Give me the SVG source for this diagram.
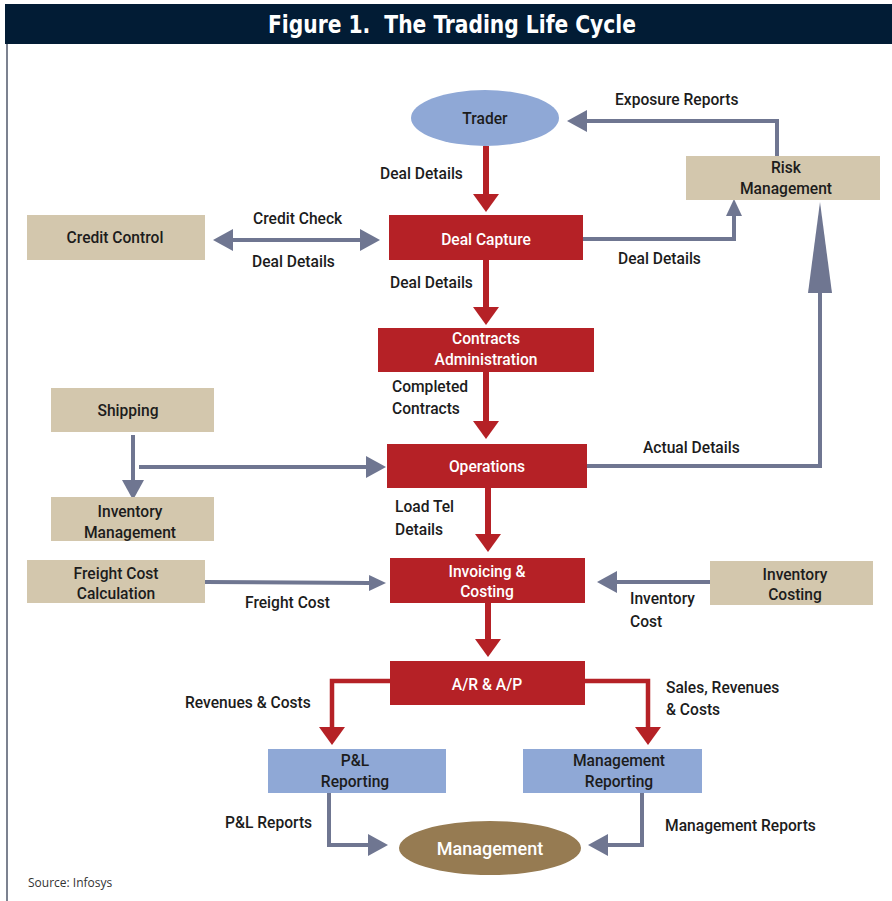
<svg xmlns="http://www.w3.org/2000/svg" width="892" height="901" viewBox="0 0 892 901">
<defs>
<style>
.t{font-family:Roboto,"Liberation Sans",Arial,sans-serif;font-weight:500;font-size:15.6px;fill:#1c1c1c}
.c{text-anchor:middle}
.w{fill:#ffffff}
.red{fill:#b52126}
.tan{fill:#d3c7ad}
.blu{fill:#8fa8d6}
.rl{fill:none;stroke:#b52126;stroke-width:6}
.rl4{fill:none;stroke:#b52126;stroke-width:4.5}
.gl{fill:none;stroke:#6f7691;stroke-width:4}
</style>
<marker id="ra" markerUnits="userSpaceOnUse" markerWidth="20" markerHeight="28" viewBox="0 -14 20 28" refX="0" refY="0" orient="auto">
<path d="M0,-13 L18,0 L0,13 z" fill="#b52126"/>
</marker>
<marker id="ga" markerUnits="userSpaceOnUse" markerWidth="22" markerHeight="24" viewBox="0 -12 22 24" refX="0" refY="0" orient="auto-start-reverse">
<path d="M0,-11 L20,0 L0,11 z" fill="#6f7691"/>
</marker>
<marker id="gs" markerUnits="userSpaceOnUse" markerWidth="22" markerHeight="24" viewBox="0 -12 22 24" refX="0" refY="0" orient="auto">
<path d="M0,-8 L17,0 L0,8 z" fill="#6f7691"/>
</marker>
</defs>
<rect width="892" height="901" fill="#ffffff"/>
<g id="title">
<rect x="5" y="4" width="887" height="40" fill="#021c35"/>
<text x="452" y="33" text-anchor="middle" font-family="'DejaVu Sans Condensed','Liberation Sans Narrow','Liberation Sans',sans-serif" font-weight="bold" font-size="25" fill="#ffffff" textLength="368" lengthAdjust="spacingAndGlyphs">Figure 1.&#160; The Trading Life Cycle</text>
</g>
<line x1="7" y1="44" x2="7" y2="901" stroke="#7c8290" stroke-width="2"/>

<g id="connectors">
<path class="rl" d="M486,146 V194" marker-end="url(#ra)"/>
<path class="rl" d="M486,260 V307" marker-end="url(#ra)"/>
<path class="rl" d="M486,372 V421" marker-end="url(#ra)"/>
<path class="rl" d="M488,488 V534" marker-end="url(#ra)"/>
<path class="rl" d="M488,603 V639" marker-end="url(#ra)"/>
<path class="rl4" d="M390,681 H332 V727" marker-end="url(#ra)"/>
<path class="rl4" d="M585,681 H648 V727" marker-end="url(#ra)"/>

<path class="gl" d="M777,156 V121 H587" marker-end="url(#ga)"/>
<path class="gl" d="M583,239 H734 V216" marker-end="url(#gs)"/>
<path class="gl" d="M233,240 H360" marker-start="url(#ga)" marker-end="url(#ga)"/>
<path class="gl" d="M587,466 H820 V292"/>
<polygon points="820,202 808,293 832,293" fill="#6f7691"/>
<path class="gl" d="M133,435 V480" marker-end="url(#ga)"/>
<path class="gl" d="M139,467 H366" marker-end="url(#ga)"/>
<path class="gl" d="M205,582 L369,583" stroke-width="3" marker-end="url(#gs)"/>
<path class="gl" d="M710,582 H617" marker-end="url(#ga)"/>
<path class="gl" d="M329,793 V845 H368" marker-end="url(#ga)"/>
<path class="gl" d="M642,793 V845 H608" marker-end="url(#ga)"/>
</g>

<g id="trader">
<ellipse cx="485" cy="118" rx="74" ry="28" fill="#8fa8d6"/>
<text class="t c" x="485" y="124">Trader</text>
</g>
<g id="deal-capture">
<rect class="red" x="389" y="215" width="194" height="45"/>
<text class="t c w" x="486" y="245">Deal Capture</text>
</g>
<g id="contracts-administration">
<rect class="red" x="378" y="328" width="216" height="44"/>
<text class="t c w" x="486" y="344">Contracts</text>
<text class="t c w" x="486" y="365">Administration</text>
</g>
<g id="operations">
<rect class="red" x="387" y="444" width="200" height="44"/>
<text class="t c w" x="487" y="472">Operations</text>
</g>
<g id="invoicing-costing">
<rect class="red" x="390" y="558" width="195" height="45"/>
<text class="t c w" x="487" y="577">Invoicing &amp;</text>
<text class="t c w" x="487" y="597">Costing</text>
</g>
<g id="ar-ap">
<rect class="red" x="390" y="661" width="195" height="44"/>
<text class="t c w" x="487" y="690">A/R &amp; A/P</text>
</g>
<g id="risk-management">
<rect class="tan" x="686" y="156" width="194" height="44"/>
<text class="t c" x="786" y="173">Risk</text>
<text class="t c" x="786" y="194">Management</text>
</g>
<g id="credit-control">
<rect class="tan" x="27" y="215" width="178" height="45"/>
<text class="t c" x="115" y="243">Credit Control</text>
</g>
<g id="shipping">
<rect class="tan" x="51" y="388" width="163" height="44"/>
<text class="t c" x="128" y="416">Shipping</text>
</g>
<g id="inventory-management">
<rect class="tan" x="51" y="497" width="163" height="44"/>
<text class="t c" x="130" y="517">Inventory</text>
<text class="t c" x="130" y="538">Management</text>
</g>
<g id="freight-cost-calculation">
<rect class="tan" x="27" y="560" width="178" height="43"/>
<text class="t c" x="116" y="579">Freight Cost</text>
<text class="t c" x="116" y="599">Calculation</text>
</g>
<g id="inventory-costing">
<rect class="tan" x="710" y="561" width="163" height="44"/>
<text class="t c" x="795" y="580">Inventory</text>
<text class="t c" x="795" y="600">Costing</text>
</g>
<g id="pl-reporting">
<rect class="blu" x="268" y="749" width="178" height="44"/>
<text class="t c" x="355" y="766">P&amp;L</text>
<text class="t c" x="355" y="787">Reporting</text>
</g>
<g id="management-reporting">
<rect class="blu" x="523" y="749" width="179" height="44"/>
<text class="t c" x="619" y="766">Management</text>
<text class="t c" x="619" y="787">Reporting</text>
</g>
<g id="management">
<ellipse cx="490" cy="848" rx="91" ry="27" fill="#967b52"/>
<text class="t c w" x="490" y="855" style="font-size:18px">Management</text>
</g>

<g id="labels">
<text class="t" x="615" y="105">Exposure Reports</text>
<text class="t" x="380" y="179">Deal Details</text>
<text class="t" x="253" y="224">Credit Check</text>
<text class="t" x="252" y="267">Deal Details</text>
<text class="t" x="390" y="288">Deal Details</text>
<text class="t" x="618" y="264">Deal Details</text>
<text class="t" x="392" y="392">Completed</text>
<text class="t" x="392" y="414">Contracts</text>
<text class="t" x="643" y="453">Actual Details</text>
<text class="t" x="395" y="512">Load Tel</text>
<text class="t" x="395" y="535">Details</text>
<text class="t" x="245" y="608">Freight Cost</text>
<text class="t" x="630" y="604">Inventory</text>
<text class="t" x="630" y="627">Cost</text>
<text class="t" x="185" y="708">Revenues &amp; Costs</text>
<text class="t" x="666" y="693">Sales, Revenues</text>
<text class="t" x="666" y="715">&amp; Costs</text>
<text class="t" x="225" y="828">P&amp;L Reports</text>
<text class="t" x="665" y="831">Management Reports</text>
<text x="28" y="887" font-family="'Open Sans','Liberation Sans',sans-serif" font-size="12" fill="#333333">Source: Infosys</text>
</g>
</svg>
